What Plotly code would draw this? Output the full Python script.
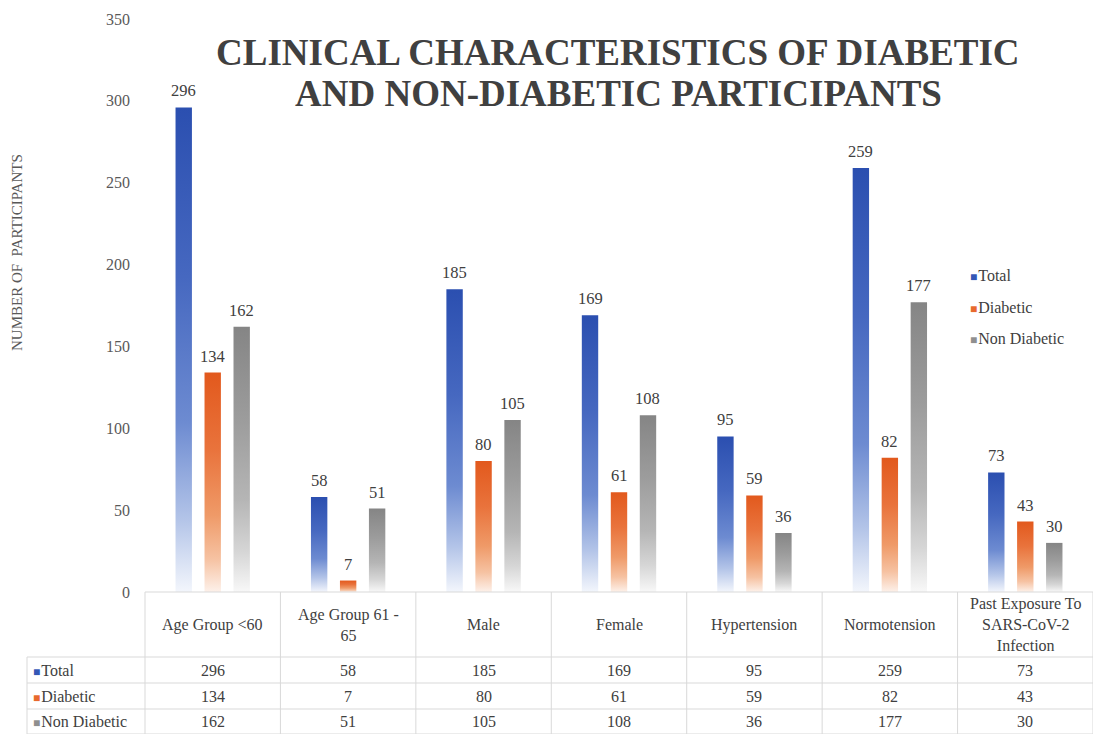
import plotly.graph_objects as go

categories = ["Age Group <60", "Age Group 61 -<br>65", "Male", "Female", "Hypertension",
              "Normotension", "Past Exposure To<br>SARS-CoV-2<br>Infection"]
series_names = ["Total", "Diabetic", "Non Diabetic"]
total = [296, 58, 185, 169, 95, 259, 73]
diabetic = [134, 7, 80, 61, 59, 82, 43]
non_diabetic = [162, 51, 105, 108, 36, 177, 30]
series_values = [total, diabetic, non_diabetic]

y_ticks = [0, 50, 100, 150, 200, 250, 300, 350]
title_lines = ["CLINICAL CHARACTERISTICS OF DIABETIC", "AND NON-DIABETIC PARTICIPANTS"]

W, H = 1093, 734
ML, MR, MT, MB = 145, 0, 19, 142
PW, PH = W - ML - MR, H - MT - MB

def px_x(p):
    return (p - ML) / PW

def px_y(p):
    return (H - MB - p) / PH

FONT = "Liberation Serif"
TXT = "#404040"
GRID = "#d9d9d9"

scales = [
    [[0, "#f3f6fc"], [0.15, "#b3c4e8"], [0.35, "#6d8bd1"], [0.65, "#4668c0"], [1, "#2b4fb0"]],
    [[0, "#fdf1ea"], [0.15, "#f6c2a2"], [0.35, "#ef9a68"], [0.65, "#e9733c"], [1, "#e2591d"]],
    [[0, "#f8f8f8"], [0.15, "#d6d6d6"], [0.35, "#b5b5b5"], [0.65, "#9c9c9c"], [1, "#858585"]],
]
solid = ["#3457b5", "#e8692d", "#8f8f8f"]

offsets = [-29 / 135.5, 0.0, 29 / 135.5]
half_w = 8.2 / 135.5

fig = go.Figure()
annotations = []

for s, vals in enumerate(series_values):
    for i, v in enumerate(vals):
        xc = i + offsets[s]
        fig.add_trace(go.Scatter(
            x=[xc - half_w, xc - half_w, xc + half_w, xc + half_w, xc - half_w],
            y=[0, v, v, 0, 0],
            mode="lines", fill="toself",
            line=dict(width=0, color=solid[s]),
            fillgradient=dict(type="vertical", colorscale=scales[s]),
            showlegend=False, hoverinfo="skip",
        ))
        annotations.append(dict(xref="x", yref="y", x=xc, y=v, text=str(v), showarrow=False,
                                xanchor="center", yanchor="bottom", yshift=5,
                                font=dict(family=FONT, size=16.5, color=TXT)))

shapes = []
ncol = len(categories)
y_head_top = px_y(592)
y_head_bot = px_y(657)
row_lines = [px_y(657), px_y(683), px_y(709), px_y(734)]
x_left = px_x(27)
shapes.append(dict(type="line", xref="paper", yref="paper", x0=0, x1=1, y0=y_head_top, y1=y_head_top,
                   line=dict(color=GRID, width=1)))
for yl in row_lines:
    shapes.append(dict(type="line", xref="paper", yref="paper", x0=x_left, x1=1, y0=yl, y1=yl,
                       line=dict(color=GRID, width=1)))
for k in range(ncol + 1):
    xb = k / ncol
    shapes.append(dict(type="line", xref="paper", yref="paper", x0=xb, x1=xb, y0=y_head_top, y1=row_lines[-1],
                       line=dict(color=GRID, width=1)))
shapes.append(dict(type="line", xref="paper", yref="paper", x0=x_left, x1=x_left, y0=row_lines[0], y1=row_lines[-1],
                   line=dict(color=GRID, width=1)))

for i, c in enumerate(categories):
    annotations.append(dict(xref="paper", yref="paper", x=(i + 0.5) / ncol, y=(y_head_top + y_head_bot) / 2,
                            text=c, showarrow=False, font=dict(family=FONT, size=16, color=TXT),
                            xanchor="center", yanchor="middle", align="center"))

def key_label(r, name):
    return (f"<span style='color:{solid[r]};font-size:12px'>■</span>"
            f"<span style='font-size:4px'> </span>{name}")

for r, (name, vals) in enumerate(zip(series_names, series_values)):
    yc = (row_lines[r] + row_lines[r + 1]) / 2
    annotations.append(dict(xref="paper", yref="paper", x=px_x(31), y=yc, xanchor="left", yanchor="middle",
                            text=key_label(r, name),
                            showarrow=False, font=dict(family=FONT, size=16, color=TXT)))
    for i, v in enumerate(vals):
        annotations.append(dict(xref="paper", yref="paper", x=(i + 0.5) / ncol, y=yc, text=str(v),
                                showarrow=False, font=dict(family=FONT, size=16, color=TXT),
                                xanchor="center", yanchor="middle"))

# legend (drawn as text entries)
legend_y = [275, 307, 338]
for r, name in enumerate(series_names):
    annotations.append(dict(xref="paper", yref="paper", x=px_x(968), y=px_y(legend_y[r]),
                            xanchor="left", yanchor="middle",
                            text=key_label(r, name),
                            showarrow=False, font=dict(family=FONT, size=16, color=TXT)))

annotations.append(dict(xref="paper", yref="paper", x=px_x(17), y=px_y(253), text="NUMBER OF  PARTICIPANTS",
                        textangle=-90, showarrow=False, font=dict(family=FONT, size=15, color="#595959"),
                        xanchor="center", yanchor="middle"))

title_y = [52, 93]
for line, ty in zip(title_lines, title_y):
    annotations.append(dict(xref="paper", yref="paper", x=px_x(618), y=px_y(ty), text=f"<b>{line}</b>",
                            showarrow=False, xanchor="center", yanchor="middle",
                            font=dict(family=FONT, size=37, color=TXT)))

fig.update_layout(
    width=W, height=H,
    margin=dict(l=ML, r=MR, t=MT, b=MB),
    paper_bgcolor="white", plot_bgcolor="white",
    font=dict(family=FONT, color=TXT),
    showlegend=False,
    xaxis=dict(range=[-0.5, ncol - 0.5], showticklabels=False, showgrid=False, zeroline=False,
               showline=False, ticks="", fixedrange=True),
    yaxis=dict(range=[0, 350], tickvals=y_ticks, showgrid=False, zeroline=False, showline=False,
               ticks="", ticklabelstandoff=14, tickfont=dict(family=FONT, size=16, color="#595959"),
               fixedrange=True),
    shapes=shapes, annotations=annotations,
)

fig.write_html("out.html", config={"displayModeBar": False},
               post_script="document.body.style.margin='0';document.body.style.overflow='hidden';")
